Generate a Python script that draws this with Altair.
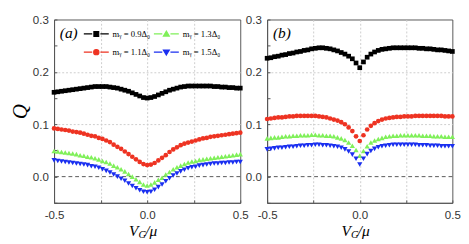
import altair as alt
import pandas as pd

# ---------------- data ----------------
x_vals = [-0.50, -0.48, -0.46, -0.44, -0.42, -0.40, -0.38, -0.36, -0.34, -0.32,
          -0.30, -0.28, -0.26, -0.24, -0.22, -0.20, -0.18, -0.16, -0.14, -0.12,
          -0.10, -0.08, -0.06, -0.04, -0.02, 0.00, 0.02, 0.04, 0.06, 0.08,
          0.10, 0.12, 0.14, 0.16, 0.18, 0.20, 0.22, 0.24, 0.26, 0.28,
          0.30, 0.32, 0.34, 0.36, 0.38, 0.40, 0.42, 0.44, 0.46, 0.48, 0.50]

series = ["0.9", "1.1", "1.3", "1.5"]
legend_labels = ["mᵧ = 0.9Δ₀", "mᵧ = 1.1Δ₀", "mᵧ = 1.3Δ₀", "mᵧ = 1.5Δ₀"]
colors = ["#000000", "#ee3322", "#80f05a", "#1a2ff0"]
shapes = ["square", "circle", "triangle-up", "triangle-down"]

# panel (a)
a_09 = [0.161, 0.162, 0.163, 0.164, 0.165, 0.166, 0.167, 0.168, 0.169, 0.170,
        0.171, 0.172, 0.172, 0.172, 0.172, 0.171, 0.170, 0.169, 0.167, 0.165,
        0.163, 0.160, 0.157, 0.154, 0.151, 0.150, 0.151, 0.153, 0.156, 0.159,
        0.162, 0.165, 0.167, 0.169, 0.171, 0.172, 0.173, 0.173, 0.173, 0.173,
        0.173, 0.173, 0.173, 0.172, 0.172, 0.171, 0.171, 0.170, 0.170, 0.169, 0.169]
a_11 = [0.092, 0.091, 0.090, 0.089, 0.088, 0.086, 0.085, 0.084, 0.082, 0.080,
        0.078, 0.077, 0.074, 0.072, 0.069, 0.066, 0.061, 0.057, 0.053, 0.048,
        0.043, 0.038, 0.033, 0.028, 0.024, 0.022, 0.023, 0.026, 0.031, 0.036,
        0.041, 0.047, 0.052, 0.056, 0.060, 0.063, 0.065, 0.067, 0.069, 0.071,
        0.073, 0.074, 0.076, 0.077, 0.078, 0.079, 0.080, 0.081, 0.082, 0.083, 0.084]
a_13 = [0.049, 0.048, 0.047, 0.046, 0.045, 0.044, 0.043, 0.041, 0.040, 0.038,
        0.037, 0.035, 0.033, 0.030, 0.028, 0.025, 0.021, 0.018, 0.014, 0.010,
        0.005, 0.000, -0.005, -0.010, -0.015, -0.017, -0.015, -0.011, -0.006, -0.002,
        0.004, 0.009, 0.014, 0.018, 0.021, 0.024, 0.027, 0.029, 0.030, 0.032,
        0.033, 0.034, 0.035, 0.036, 0.037, 0.038, 0.039, 0.040, 0.041, 0.042, 0.043]
a_15 = [0.031, 0.030, 0.029, 0.028, 0.027, 0.026, 0.025, 0.024, 0.023, 0.022,
        0.020, 0.019, 0.017, 0.014, 0.011, 0.008, 0.004, 0.000, -0.004, -0.008,
        -0.013, -0.018, -0.022, -0.026, -0.029, -0.030, -0.029, -0.025, -0.020, -0.015,
        -0.009, -0.003, 0.002, 0.006, 0.010, 0.013, 0.016, 0.018, 0.019, 0.021,
        0.022, 0.023, 0.024, 0.025, 0.025, 0.026, 0.026, 0.027, 0.027, 0.028, 0.028]

# panel (b)
b_09 = [0.226, 0.227, 0.229, 0.230, 0.232, 0.233, 0.235, 0.236, 0.238, 0.239,
        0.241, 0.242, 0.244, 0.245, 0.246, 0.246, 0.245, 0.244, 0.242, 0.240,
        0.237, 0.234, 0.230, 0.225, 0.217, 0.208, 0.219, 0.228, 0.234, 0.238,
        0.241, 0.243, 0.244, 0.245, 0.246, 0.246, 0.246, 0.246, 0.246, 0.246,
        0.246, 0.245, 0.245, 0.244, 0.244, 0.243, 0.242, 0.242, 0.241, 0.240, 0.239]
b_11 = [0.110, 0.111, 0.112, 0.113, 0.113, 0.114, 0.115, 0.115, 0.116, 0.116,
        0.116, 0.116, 0.116, 0.116, 0.115, 0.114, 0.113, 0.111, 0.109, 0.107,
        0.104, 0.100, 0.094, 0.087, 0.077, 0.068, 0.079, 0.090, 0.097, 0.102,
        0.106, 0.109, 0.111, 0.112, 0.113, 0.114, 0.114, 0.115, 0.115, 0.115,
        0.116, 0.116, 0.116, 0.116, 0.116, 0.116, 0.116, 0.116, 0.115, 0.115, 0.115]
b_13 = [0.073, 0.074, 0.075, 0.075, 0.076, 0.077, 0.077, 0.078, 0.078, 0.079,
        0.079, 0.079, 0.080, 0.080, 0.079, 0.079, 0.078, 0.078, 0.077, 0.075,
        0.073, 0.070, 0.065, 0.059, 0.051, 0.040, 0.049, 0.058, 0.065, 0.069,
        0.072, 0.074, 0.076, 0.077, 0.078, 0.078, 0.079, 0.079, 0.079, 0.079,
        0.079, 0.079, 0.078, 0.078, 0.078, 0.077, 0.077, 0.077, 0.076, 0.076, 0.076]
b_15 = [0.052, 0.053, 0.054, 0.055, 0.055, 0.056, 0.057, 0.057, 0.058, 0.059,
        0.059, 0.060, 0.060, 0.061, 0.061, 0.060, 0.060, 0.059, 0.058, 0.057,
        0.055, 0.052, 0.048, 0.042, 0.034, 0.023, 0.034, 0.043, 0.049, 0.053,
        0.056, 0.058, 0.059, 0.060, 0.061, 0.061, 0.061, 0.061, 0.061, 0.061,
        0.061, 0.060, 0.060, 0.060, 0.059, 0.059, 0.059, 0.058, 0.058, 0.058, 0.058]

panel_a = [a_09, a_11, a_13, a_15]
panel_b = [b_09, b_11, b_13, b_15]
zero_line = [0.0]

x_ticks = [-0.5, -0.25, 0.0, 0.25, 0.5]
y_ticks = [-0.05, 0.0, 0.05, 0.1, 0.15, 0.2, 0.25, 0.3]


def make_df(values):
    rows = []
    for s, ys in zip(series, values):
        for xv, yv in zip(x_vals, ys):
            rows.append({"x": xv, "Q": yv, "series": s})
    return pd.DataFrame(rows)


W_A, W_B, H = 194, 193, 191
SERIF = "Liberation Serif"
SANS = "Liberation Sans"
INWARD = {"expr": "-3"}


def panel(values, letter, width, show_ytitle, show_legend):
    df = make_df(values)
    xaxis = alt.Axis(values=x_ticks, title=None, grid=True,
                     labelExpr="datum.value == 0 ? '0.0' : (abs(datum.value) == 0.25 ? '' : (datum.value < 0 ? '-' : '') + format(abs(datum.value), '.1f'))",
                     labelFlush=False, labelOverlap=False, tickSize=INWARD, labelPadding=10,
                     gridOpacity={"condition": {"test": "abs(datum.value) < 0.5", "value": 1}, "value": 0})
    yaxis = alt.Axis(values=y_ticks, title="Q" if show_ytitle else None, grid=True,
                     labelExpr="round(datum.value * 100) % 10 == 0 ? format(datum.value, '.1f') : ''",
                     labelFlush=False, labelOverlap=False, tickSize=INWARD, labelPadding=9,
                     titleFont=SERIF, titleFontStyle="italic", titleFontSize=22,
                     titleFontWeight="normal", titleColor="black", titlePadding=1,
                     gridOpacity={"condition": {"test": "indexof([10, 20], round(datum.value * 100)) >= 0", "value": 1}, "value": 0})
    xsc = alt.Scale(domain=[-0.5, 0.5], nice=False, zero=False)
    ysc = alt.Scale(domain=[-0.05, 0.3], nice=False, zero=False)

    base = alt.Chart(df)
    layers = []
    zl = alt.Chart(pd.DataFrame({"y": zero_line})).mark_rule(
        color="#555555", strokeDash=[4, 3], strokeWidth=1).encode(
        y=alt.Y("y:Q", scale=ysc, axis=yaxis))
    layers.append(zl)
    for s, c, sh in zip(series, colors, shapes):
        sz = 24 if sh in ("square", "circle") else 30
        layers.append(
            base.transform_filter(alt.datum.series == s)
            .mark_point(filled=True, shape=sh, color=c, size=sz, opacity=1)
            .encode(x=alt.X("x:Q", scale=xsc, axis=xaxis),
                    y=alt.Y("Q:Q", scale=ysc, axis=yaxis))
        )
    # panel letter
    layers.append(
        alt.Chart(pd.DataFrame({"t": [letter]})).mark_text(
            font=SERIF, fontStyle="italic", fontSize=16, align="left",
            baseline="middle", color="black").encode(
            x=alt.value(6), y=alt.value(14), text="t:N"))
    # x title V_G / mu
    cx = width / 2
    ty = H + 30
    for txt, dx, dy, fs in [("V", -19, 0, 16), ("G", -9, 4, 11), ("/μ", -2, 0, 16)]:
        layers.append(
            alt.Chart(pd.DataFrame({"t": [txt]})).mark_text(
                font=SERIF, fontStyle="italic", fontSize=fs, align="left",
                baseline="middle", color="black").encode(
                x=alt.value(cx + dx), y=alt.value(ty + dy), text="t:N"))
    if show_legend:
        paths = [
            "M-2.6,0H-0.85M-0.5,-0.5H0.5V0.5H-0.5ZM0.85,0H2.6",
            "M-2.6,0H-0.85M-0.55,0A0.55,0.55 0 1,0 0.55,0A0.55,0.55 0 1,0 -0.55,0ZM0.85,0H2.6",
            "M-2.6,0H-0.85M0,-0.6L0.62,0.45L-0.62,0.45ZM0.85,0H2.6",
            "M-2.6,0H-0.85M0,0.6L0.62,-0.45L-0.62,-0.45ZM0.85,0H2.6",
        ]
        leg = alt.Legend(orient="none", legendX=38, legendY=9, columns=2, title=None,
                         labelFont=SERIF, labelFontSize=9, labelColor="black",
                         symbolSize=100, symbolStrokeWidth=1.2, symbolOpacity=1,
                         labelOffset=11, columnPadding=0, rowPadding=8, padding=0)
        layers.append(
            alt.Chart(pd.DataFrame({"lab": legend_labels})).mark_point(
                filled=True, opacity=0).encode(
                x=alt.value(0), y=alt.value(0),
                shape=alt.Shape("lab:N", scale=alt.Scale(domain=legend_labels, range=paths), legend=leg),
                fill=alt.Fill("lab:N", scale=alt.Scale(domain=legend_labels, range=colors), legend=leg),
                stroke=alt.Stroke("lab:N", scale=alt.Scale(domain=legend_labels, range=colors), legend=leg),
            ))
    return alt.layer(*layers).properties(width=width, height=H)


left = panel(panel_a, "(a)", W_A, True, True)
right = panel(panel_b, "(b)", W_B, False, False)

chart = alt.hconcat(left, right, spacing=28, bounds="flush").properties(
    padding={"left": 0, "top": 0, "right": 0, "bottom": 0},
    background="white",
).configure_view(stroke="#555555", strokeWidth=1).configure_axis(
    labelFont=SANS, labelFontSize=12, labelColor="#333333",
    domainColor="#555555", tickColor="#555555",
    gridColor="#cccccc", gridDash=[2, 2], gridWidth=1,
)

chart.save("out.html", embed_options={"renderer": "svg", "actions": False})
